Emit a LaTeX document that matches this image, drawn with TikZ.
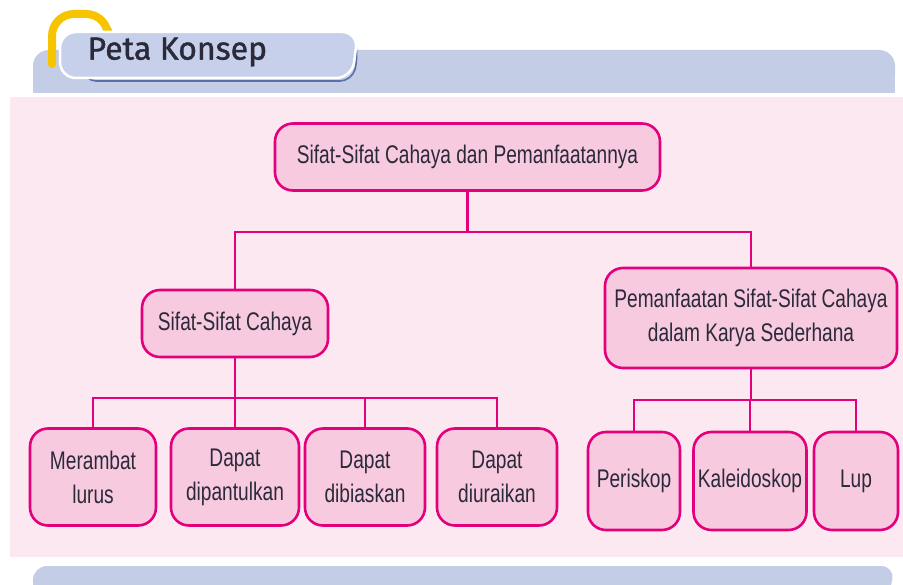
\documentclass[tikz,border=0pt]{standalone}
\usepackage{fontspec}
\setmainfont{Liberation Sans}[FakeStretch=0.75]
\newfontfamily\titlefont{Fira Sans}[FakeBold=1.2]
\definecolor{bandblue}{HTML}{C3CDE6}
\definecolor{tabblue}{HTML}{C6D0EA}
\definecolor{shadowblue}{HTML}{5A6FA8}
\definecolor{tabyellow}{HTML}{F7C400}
\definecolor{bgpink}{HTML}{FCE8F1}
\definecolor{boxpink}{HTML}{F8CADF}
\definecolor{magentaline}{HTML}{E4007C}
\definecolor{txt}{HTML}{2A2A3A}
\tikzset{
  box/.style={draw=magentaline, fill=boxpink, line width=2.6pt, rounded corners=18pt,
    align=center, text=txt, font=\fontsize{25.5}{34}\selectfont, inner sep=2pt},
  conn/.style={draw=magentaline, line width=2.6pt},
  thinconn/.style={draw=magentaline, line width=1.8pt}
}
\begin{document}
\begin{tikzpicture}[x=1pt,y=-1pt]
\useasboundingbox (0,0) rectangle (903,585);
% background areas
\fill[bgpink] (10,97) rectangle (903,557);
\fill[bandblue, rounded corners=16pt] (33,93) -- (33,50) -- (895,50) -- (895,93) -- cycle;
\fill[bandblue] (33,80) rectangle (895,93);
\fill[bandblue, rounded corners=14pt] (33,600) -- (33,566) -- (895,566) -- (888,600) -- cycle;
% tab
\draw[tabyellow, line width=8pt, rounded corners=22pt, line cap=round] (52,64) -- (52,14) -- (108,14) -- (108,30);
\draw[shadowblue, line width=1.6pt, rounded corners=12pt] (84,74) -- (84,81) -- (352,81) -- (358,58) -- (355,40);
\filldraw[fill=tabblue, draw=white, line width=2.5pt, rounded corners=16pt]
  (60,78) -- (60,32) -- (358,32) -- (352,78) -- cycle;
\node[font=\titlefont\fontsize{32}{34}\selectfont, text=txt, anchor=west] (title) at (84,52) {Peta Konsep};
% nodes
\node[box, minimum width=385pt, minimum height=67pt] (top) at (467.5,157) {Sifat-Sifat Cahaya dan Pemanfaatannya};
\node[box, minimum width=186pt, minimum height=67pt] (sc) at (235,323.5) {Sifat-Sifat Cahaya};
\node[box, minimum width=292pt, minimum height=100pt] (pm) at (751,318) {Pemanfaatan Sifat-Sifat Cahaya\\dalam Karya Sederhana};
\node[box, minimum width=126pt, minimum height=97pt] (m1) at (93,477) {Merambat\\lurus};
\node[box, minimum width=128pt, minimum height=97pt] (m2) at (235,477) {Dapat\\dipantulkan};
\node[box, minimum width=120pt, minimum height=97pt] (m3) at (365,477) {Dapat\\dibiaskan};
\node[box, minimum width=120pt, minimum height=97pt] (m4) at (497,477) {Dapat\\diuraikan};
\node[box, minimum width=92pt, minimum height=98pt] (p1) at (634,481) {Periskop};
\node[box, minimum width=113pt, minimum height=98pt] (p2) at (750,481) {Kaleidoskop};
\node[box, minimum width=84pt, minimum height=98pt] (p3) at (856,481) {Lup};
% connectors
\coordinate (h1) at (467.5,232);
\coordinate (h2) at (235,398);
\coordinate (h3) at (751,400);
\draw[conn] (top.south) -- (h1);
\draw[conn] (sc.north) |- (h1) -| (pm.north);
\draw[conn] (sc.south) -- (h2);
\draw[thinconn] (m1.north) |- (h2) -| (m4.north);
\draw[thinconn] (m2.north) -- (m2.north |- h2);
\draw[thinconn] (m3.north) -- (m3.north |- h2);
\draw[conn] (pm.south) -- (h3);
\draw[thinconn] (p1.north) |- (h3) -| (p3.north);
\draw[thinconn] (p2.north) -- (p2.north |- h3);
\end{tikzpicture}
\end{document}
